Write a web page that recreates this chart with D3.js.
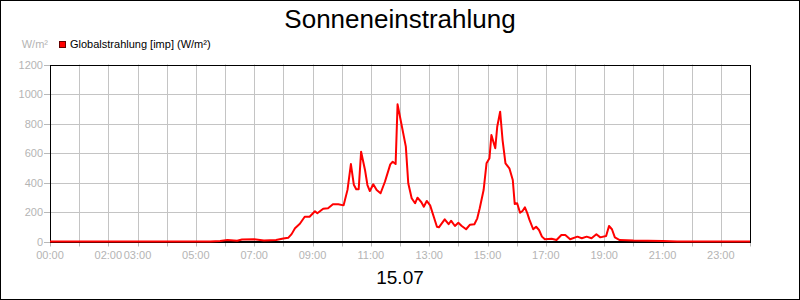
<!DOCTYPE html>
<html>
<head>
<meta charset="utf-8">
<script src="https://cdn.jsdelivr.net/npm/d3@7"></script>
<style>
  body { margin: 0; background: #fff; }
  text { font-family: "Liberation Sans", Arial, sans-serif; }
</style>
</head>
<body>
<div id="chart"></div>
<script>
// values
var times = ["00:00","05:30","05:50","06:05","06:25","06:35","07:00","07:20","07:45","08:00",
  "08:10","08:17","08:24","08:34","08:44","08:54","09:05","09:10","09:22","09:32",
  "09:42","09:53","10:04","10:12","10:19","10:25","10:30","10:35","10:40","10:48",
  "10:53","10:58","11:05","11:12","11:20","11:29","11:40","11:45","11:51","11:55",
  "12:04","12:12","12:17","12:24","12:31","12:36","12:44","12:49","12:55","13:02",
  "13:16","13:20","13:32","13:40","13:45","13:53","14:00","14:07","14:16","14:24",
  "14:33","14:39","14:44","14:52","14:58","15:04","15:08","15:12","15:16","15:20",
  "15:26","15:31","15:37","15:45","15:52","15:56","16:01","16:07","16:12","16:17",
  "16:22","16:26","16:34","16:40","16:46","16:52","16:58","17:12","17:22","17:32",
  "17:40","17:50","18:05","18:14","18:24","18:34","18:44","18:52","19:04","19:10",
  "19:16","19:22","19:32","20:00","21:00","21:30","24:00"];
var globalstrahlung = [0,0,3,10,5,14,15,6,10,20,
  25,50,90,120,168,168,205,191,222,225,
  252,252,245,350,525,385,354,354,609,485,
  383,342,388,349,327,405,523,541,525,930,
  778,643,395,293,259,297,266,236,275,245,
  100,96,150,117,141,105,127,105,83,114,
  117,157,225,349,530,564,722,677,632,778,
  880,688,530,496,417,254,259,195,207,232,
  191,150,83,100,78,33,15,19,10,44,
  44,15,33,22,33,22,49,28,37,105,
  83,28,10,6,4,0,0];
var xTickLabels = ["00:00","02:00","03:00","05:00","07:00","09:00","11:00","13:00","15:00","17:00","19:00","21:00","23:00"];
var yTicks = [0,200,400,600,800,1000,1200];

var W = 800, H = 300;
var margin = { top: 64.5, right: 50, bottom: 58.5, left: 50 };

function hours(s) {
  var p = s.split(":");
  return +p[0] + (+p[1]) / 60;
}

var data = times.map(function (t, i) { return { h: hours(t), v: globalstrahlung[i] }; });

var svg = d3.select("#chart").append("svg")
    .attr("width", W)
    .attr("height", H);

svg.append("rect")
    .attr("x", 0.5).attr("y", 0.5)
    .attr("width", W - 1).attr("height", H - 1)
    .attr("fill", "#fff").attr("stroke", "#000");

var x = d3.scaleLinear().domain([0, 24]).range([margin.left, W - margin.right]);
var y = d3.scaleLinear().domain([0, 1200]).range([H - margin.bottom, margin.top]);

var g = svg.append("g");

// grid
g.selectAll(".vgrid").data(d3.range(1, 24)).enter().append("line")
    .attr("x1", function (d) { return Math.round(x(d)) + 0.5; })
    .attr("x2", function (d) { return Math.round(x(d)) + 0.5; })
    .attr("y1", y(1200)).attr("y2", y(0))
    .attr("stroke", "#c4c4c4");
g.selectAll(".hgrid").data(yTicks.slice(1, -1)).enter().append("line")
    .attr("x1", x(0)).attr("x2", x(24))
    .attr("y1", function (d) { return Math.round(y(d)) + 0.5; })
    .attr("y2", function (d) { return Math.round(y(d)) + 0.5; })
    .attr("stroke", "#c4c4c4");

// x ticks
g.selectAll(".xtick").data(d3.range(0, 25)).enter().append("line")
    .attr("x1", function (d) { return Math.round(x(d)) + 0.5; })
    .attr("x2", function (d) { return Math.round(x(d)) + 0.5; })
    .attr("y1", y(0)).attr("y2", y(0) + 5)
    .attr("stroke", "#b8b8b8");
g.selectAll(".xlabel").data(xTickLabels).enter().append("text")
    .attr("x", function (d) { return x(hours(d)); })
    .attr("y", 258.5)
    .attr("text-anchor", "middle")
    .attr("font-size", "11px")
    .attr("fill", "#b4b4b4")
    .text(function (d) { return d; });

// y ticks
g.selectAll(".ytick").data(yTicks).enter().append("line")
    .attr("x1", x(0) - 6).attr("x2", x(0))
    .attr("y1", function (d) { return Math.round(y(d)) + 0.5; })
    .attr("y2", function (d) { return Math.round(y(d)) + 0.5; })
    .attr("stroke", "#b8b8b8");
g.selectAll(".ylabel").data(yTicks).enter().append("text")
    .attr("x", x(0) - 7)
    .attr("y", function (d) { return y(d) + 4; })
    .attr("text-anchor", "end")
    .attr("font-size", "11px")
    .attr("fill", "#b4b4b4")
    .text(function (d) { return d; });

// frame
g.append("rect")
    .attr("x", x(0) + 0.5).attr("y", Math.round(y(1200)) + 0.5)
    .attr("width", x(24) - x(0)).attr("height", Math.round(y(0)) - Math.round(y(1200)))
    .attr("fill", "none").attr("stroke", "#000");
g.append("line")
    .attr("x1", x(0)).attr("x2", x(24))
    .attr("y1", y(0) + 0.5).attr("y2", y(0) + 0.5)
    .attr("stroke", "#000").attr("stroke-width", 2);

// series
g.append("path")
    .datum(data)
    .attr("fill", "none")
    .attr("stroke", "#ff0000")
    .attr("stroke-width", 2)
    .attr("stroke-linejoin", "round")
    .attr("d", d3.line()
      .x(function (d) { return x(d.h); })
      .y(function (d) { return y(d.v); }));

// titles & legend
svg.append("text")
    .attr("x", W / 2).attr("y", 28)
    .attr("text-anchor", "middle")
    .attr("font-size", "26px")
    .attr("fill", "#000")
    .text("Sonneneinstrahlung");
svg.append("text")
    .attr("x", W / 2).attr("y", 284)
    .attr("text-anchor", "middle")
    .attr("font-size", "19px")
    .attr("fill", "#000")
    .text("15.07");
svg.append("text")
    .attr("x", 48).attr("y", 48)
    .attr("text-anchor", "end")
    .attr("font-size", "11px")
    .attr("fill", "#b4b4b4")
    .text("W/m²");
svg.append("rect")
    .attr("x", 59.5).attr("y", 41.5)
    .attr("width", 6).attr("height", 6)
    .attr("fill", "#ff0000").attr("stroke", "#600");
svg.append("text")
    .attr("x", 70).attr("y", 48)
    .attr("font-size", "11px")
    .attr("fill", "#000")
    .text("Globalstrahlung [imp] (W/m²)");
</script>
</body>
</html>
